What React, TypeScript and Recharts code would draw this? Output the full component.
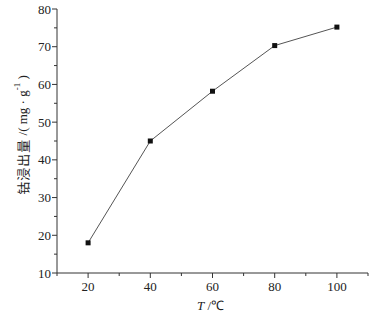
import { LineChart, Line, XAxis, YAxis, Label } from "recharts"

const temps = [20, 40, 60, 80, 100]
const leached = [18, 45, 58.2, 70.3, 75.2]
const xTicks = [10, 20, 30, 40, 50, 60, 70, 80, 90, 100, 110]
const xLabels = [20, 40, 60, 80, 100]
const yTicks = [10, 15, 20, 25, 30, 35, 40, 45, 50, 55, 60, 65, 70, 75, 80]
const yLabels = [10, 20, 30, 40, 50, 60, 70, 80]

const data = temps.map((t, i) => ({ t, v: leached[i] }))

const serif = "'Liberation Serif', 'Times New Roman', serif"

function XTick(props: any) {
  const { x, y, payload } = props
  const major = xLabels.includes(payload.value)
  return (
    <g>
      <line x1={x} x2={x} y1={y} y2={y + (major ? 5 : 3)} stroke="#333" />
      {major && (
        <text x={x} y={y + 18} textAnchor="middle" fontSize={13} fontFamily={serif} fill="#222">
          {payload.value}
        </text>
      )}
    </g>
  )
}

function YTick(props: any) {
  const { x, y, payload } = props
  const major = yLabels.includes(payload.value)
  return (
    <g>
      <line x1={x} x2={x - (major ? 5 : 3)} y1={y} y2={y} stroke="#333" />
      {major && (
        <text x={x - 6} y={y + 4.5} textAnchor="end" fontSize={13} fontFamily={serif} fill="#222">
          {payload.value}
        </text>
      )}
    </g>
  )
}

function Square(props: any) {
  const { cx, cy } = props
  return <rect x={cx - 2.5} y={cy - 2.5} width={5} height={5} fill="#111" />
}

export default function App() {
  return (
    <div style={{ position: "absolute", left: 0, top: 0, background: "#fff" }}>
      <LineChart width={376} height={315} data={data} margin={{ top: 9, right: 8, bottom: 0, left: 0 }}>
        <XAxis
          dataKey="t"
          type="number"
          domain={[10, 110]}
          ticks={xTicks}
          interval={0}
          tickLine={false}
          tickSize={0}
          tickMargin={0}
          tick={<XTick />}
          stroke="#333"
          height={42}
        >
          <Label
            content={(p: any) => {
              const vb = p.viewBox
              return (
                <text x={vb.x + vb.width / 2 - 2} y={vb.y + 37} textAnchor="middle" fontSize={13} fontFamily={serif} fill="#222">
                  <tspan fontStyle="italic">T</tspan>
                  <tspan> /℃</tspan>
                </text>
              )
            }}
          />
        </XAxis>
        <YAxis
          type="number"
          domain={[10, 80]}
          ticks={yTicks}
          interval={0}
          tickLine={false}
          tickSize={0}
          tickMargin={0}
          tick={<YTick />}
          stroke="#333"
          width={57}
        >
          <Label
            content={(p: any) => {
              const vb = p.viewBox
              const cx = 22
              const cy = vb.y + vb.height / 2 - 6
              return (
                <text x={cx} y={cy} transform={`rotate(-90 ${cx} ${cy})`} textAnchor="middle" dominantBaseline="central" fontSize={13} fill="#222">
                  <tspan fontFamily="'Noto Sans CJK SC', sans-serif" letterSpacing={1}>钴浸出量</tspan>
                  <tspan fontFamily={serif} fontSize={13}> /( mg · g</tspan>
                  <tspan fontFamily={serif} fontSize={9} dy={-5}>-1</tspan>
                  <tspan fontFamily={serif} fontSize={13} dy={5}> )</tspan>
                </text>
              )
            }}
          />
        </YAxis>
        <Line dataKey="v" stroke="#555" strokeWidth={1} dot={<Square />} isAnimationActive={false} />
      </LineChart>
    </div>
  )
}
